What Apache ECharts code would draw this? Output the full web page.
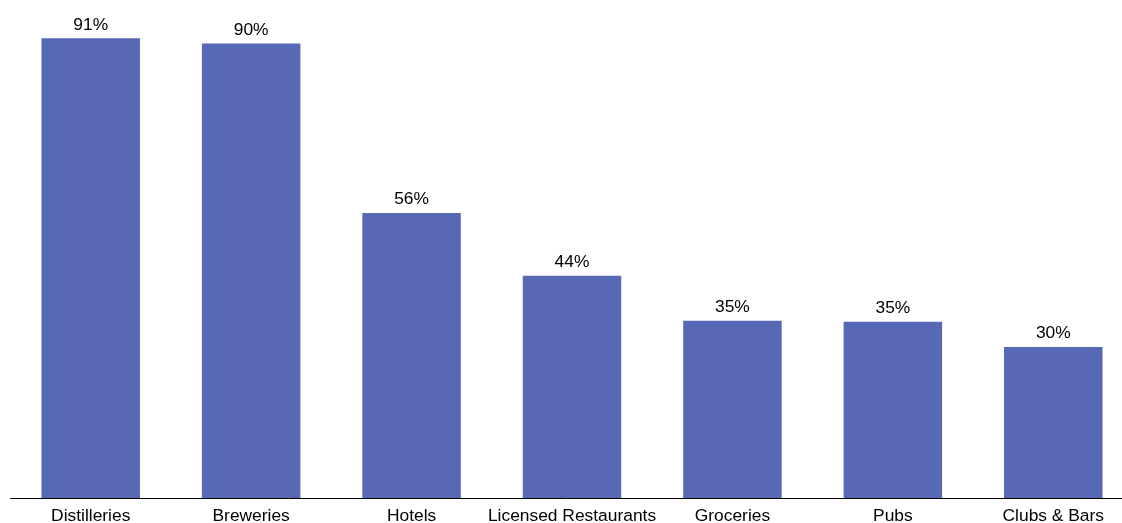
<!DOCTYPE html>
<html>
<head>
<meta charset="utf-8">
<script src="https://cdn.jsdelivr.net/npm/echarts@6/dist/echarts.min.js"></script>
<style>
html,body{margin:0;padding:0;background:#fff;}
#chart{width:1122px;height:523px;}
</style>
</head>
<body>
<div id="chart"></div>
<script>
const categories = ["Distilleries", "Breweries", "Hotels", "Licensed Restaurants", "Groceries", "Pubs", "Clubs & Bars"];
const values = [91, 90, 56.4, 44, 35.1, 34.9, 29.9];

const chart = echarts.init(document.getElementById('chart'));
chart.setOption({
  animation: false,
  grid: { left: 10.5, top: 3, right: -11.5, bottom: 25, containLabel: false, outerBoundsMode: 'none' },
  xAxis: {
    type: 'category',
    data: categories,
    axisLine: { show: true, lineStyle: { color: '#000', width: 1 } },
    axisTick: { show: false },
    axisLabel: { color: '#000', fontSize: 17.4, fontFamily: 'Liberation Sans, Arial, sans-serif', margin: 10, interval: 0 }
  },
  yAxis: {
    type: 'value',
    min: 0,
    max: 98,
    show: false,
    splitLine: { show: false }
  },
  series: [{
    type: 'bar',
    data: values,
    barWidth: '61.4%',
    itemStyle: { color: '#5769b4' },
    label: {
      show: true,
      position: 'top',
      distance: 5,
      color: '#000',
      fontSize: 17.4,
      fontFamily: 'Liberation Sans, Arial, sans-serif',
      formatter: p => Math.round(p.value) + '%'
    }
  }]
});
</script>
</body>
</html>
